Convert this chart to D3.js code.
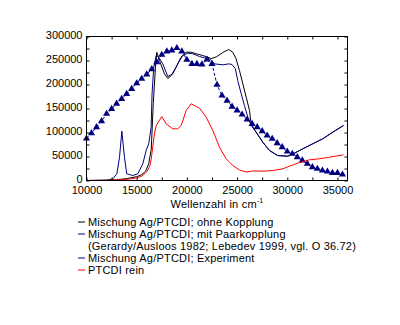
<!DOCTYPE html>
<html><head><meta charset="utf-8">
<script src="https://cdn.jsdelivr.net/npm/d3@7"></script>
<style>body{margin:0;background:#fff}svg{display:block}text{font-family:Arial,"Liberation Sans",sans-serif}</style>
</head><body><svg id="c" width="400" height="325"></svg>
<script>
const xLabelTicks = [10000,15000,20000,25000,30000,35000];
const xMinorTicks = [10000,12500,15000,17500,20000,22500,25000,27500,30000,32500,35000];
const yLabelTicks = [0,50000,100000,150000,200000,250000,300000];
const yMinorTicks = [0,25000,50000,75000,100000,125000,150000,175000,200000,225000,250000,275000,300000];

const expW = [10000,10500,11000,11500,12000,12500,13000,13500,14000,14500,15000,15500,16000,16500,17000,17500,18000,18500,19000,19500,20000,20500,21000,21500,22000,22500,23000,23500,24000,24500,25000,25500,26000,26500,27000,27500,28000,28500,29000,29500,30000,30500,31000,31500,32000,32500,33000,33500,34000,34500,35000,35500];
const expV = [87500,98500,111000,123500,139000,149000,160000,170000,180500,191000,202500,212000,221000,232000,246500,262000,269000,271000,276000,269000,251500,243000,243000,241700,252000,243000,199500,177000,166500,154000,146000,137500,127000,118000,111000,102700,93700,87000,77700,69400,60400,55600,48500,41700,34800,27700,24400,20800,18700,16000,16000,12500];

const blkW = [10000,12000,13000,14000,15000,15500,15900,16200,16450,16650,16870,17000,17270,17770,18100,18440,18920,19420,19920,20420,20920,21580,22080,22420,22920,23580,24170,24570,24900,25240,25570,25910,26240,26400,26900,27560,28230,29050,30050,30720,31540,32540,33540,34530,35600];
const blkV = [0,500,1500,4000,8000,12000,20000,35000,65000,160000,236000,267000,250000,222000,212500,218700,236000,256900,267300,267300,264000,260400,256900,254000,257300,266700,272900,267300,253500,229000,201500,173500,145800,118000,100600,79800,62500,52000,50600,56900,66000,76500,86900,100600,114600];

const bluW = [10000,12000,12620,13020,13290,13520,13780,14010,14610,15110,15610,15940,16200,16440,16530,16700,16940,17200,17600,18100,18600,19090,19590,20090,20590,21250,21750,22250,22750,23580,24170,24490,24830,25070,25410,25740,26070,26400,26900,27560,28230,29050,30050,30720,31540,32540,33540,34530,35600];
const bluV = [0,500,3500,14000,48500,102700,48500,14000,10400,14000,34800,62500,76500,111000,180600,236000,260400,256900,243000,216700,222300,243000,260400,265200,264000,258300,255600,253500,243000,241000,243000,241700,232700,208000,180600,156000,131900,115000,100600,79800,62500,52000,50600,56900,66000,76500,86900,100600,114600];

const redW = [10000,12000,13500,14500,15000,15500,16000,16300,16450,16600,16770,16940,17100,17500,17940,18600,19090,19430,19930,20430,20930,21250,21920,22580,23250,23910,24570,25240,25910,26560,27560,28560,29550,30550,31220,32210,33210,34200,35600];
const redV = [0,500,1500,3500,5500,9000,18000,30000,45000,70000,97000,114000,120000,133000,118000,107700,107700,114600,145800,159800,154200,151000,131900,104200,69400,45200,31200,21900,17700,19800,19400,20800,24400,32300,37500,43100,45200,48500,53500];

const legendLabels = ["Mischung Ag/PTCDI; ohne Kopplung","Mischung Ag/PTCDI; mit Paarkopplung","(Gerardy/Ausloos 1982; Lebedev 1999, vgl. O 36.72)","Mischung Ag/PTCDI; Experiment","PTCDI rein"];
const legendColors = ["#000000","#000080",null,"#000080","#ff0000"];

const svg = d3.select("#c");
const L=86.5, R=347.5, T=36.5, B=180.5;
const x = d3.scaleLinear().domain([10000,36000]).range([L,R]);
const y = d3.scaleLinear().domain([0,300000]).range([B,T]);

const line = (W,V)=>d3.line().x((d,i)=>x(W[i])).y((d,i)=>y(V[i]))(W);

const g = svg.append("g");
g.append("path").attr("d",line(blkW,blkV)).attr("fill","none").attr("stroke","#000").attr("stroke-width",1);
g.append("path").attr("d",line(bluW,bluV)).attr("fill","none").attr("stroke","#000080").attr("stroke-width",1);
g.append("path").attr("d",line(expW,expV)).attr("fill","none").attr("stroke","#000080").attr("stroke-width",1).attr("stroke-dasharray","3,2");
g.selectAll(".tri").data(expW).join("path").attr("class","tri")
  .attr("d",d3.symbol(d3.symbolTriangle,22)())
  .attr("transform",(d,i)=>`translate(${x(expW[i])},${y(expV[i])})`)
  .attr("fill","#000080");
g.append("path").attr("d",line(redW,redV)).attr("fill","none").attr("stroke","#ff0000").attr("stroke-width",1);

// axes
const fs = "11px";
function styleAx(sel){ sel.select(".domain").remove(); sel.selectAll("line").attr("stroke","#000"); sel.selectAll("text").attr("font-size",fs).attr("fill","#000").attr("font-family","Arial, 'Liberation Sans', sans-serif"); }
svg.append("g").attr("transform",`translate(0,${B})`).call(d3.axisBottom(x).tickValues(xMinorTicks).tickSize(-3).tickFormat("")).call(styleAx);
svg.append("g").attr("transform",`translate(0,${T})`).call(d3.axisTop(x).tickValues(xMinorTicks).tickSize(-3).tickFormat("")).call(styleAx);
svg.append("g").attr("transform",`translate(${L},0)`).call(d3.axisLeft(y).tickValues(yMinorTicks).tickSize(-3).tickFormat("")).call(styleAx);
svg.append("g").attr("transform",`translate(${R},0)`).call(d3.axisRight(y).tickValues(yMinorTicks).tickSize(-3).tickFormat("")).call(styleAx);
svg.append("g").attr("transform",`translate(0,${B})`).call(d3.axisBottom(x).tickValues(xLabelTicks).tickSize(0).tickPadding(6).tickFormat(d3.format("d"))).call(styleAx);
svg.append("g").attr("transform",`translate(${L},0)`).call(d3.axisLeft(y).tickValues(yLabelTicks).tickSize(0).tickPadding(4).tickFormat(d3.format("d"))).call(styleAx)
  .selectAll("text").attr("dy","0.15em");
svg.append("rect").attr("x",L).attr("y",T).attr("width",R-L).attr("height",B-T).attr("fill","none").attr("stroke","#000");

const xt = svg.append("text").attr("x",(L+R)/2).attr("y",208).attr("text-anchor","middle").attr("font-size",fs).attr("letter-spacing","0.2px");
xt.append("tspan").text("Wellenzahl in cm");
xt.append("tspan").attr("font-size","7px").attr("dy",-5).text("-1");

// legend
const ly = [222,234,246,258,270];
legendLabels.forEach((t,i)=>{
  if(legendColors[i]) svg.append("line").attr("x1",78).attr("x2",85).attr("y1",ly[i]).attr("y2",ly[i]).attr("stroke",legendColors[i]).attr("stroke-width",1);
  svg.append("text").attr("x",88).attr("y",ly[i]+4).attr("font-size",fs).attr("letter-spacing","0.2px").text(t);
});
</script></body></html>
